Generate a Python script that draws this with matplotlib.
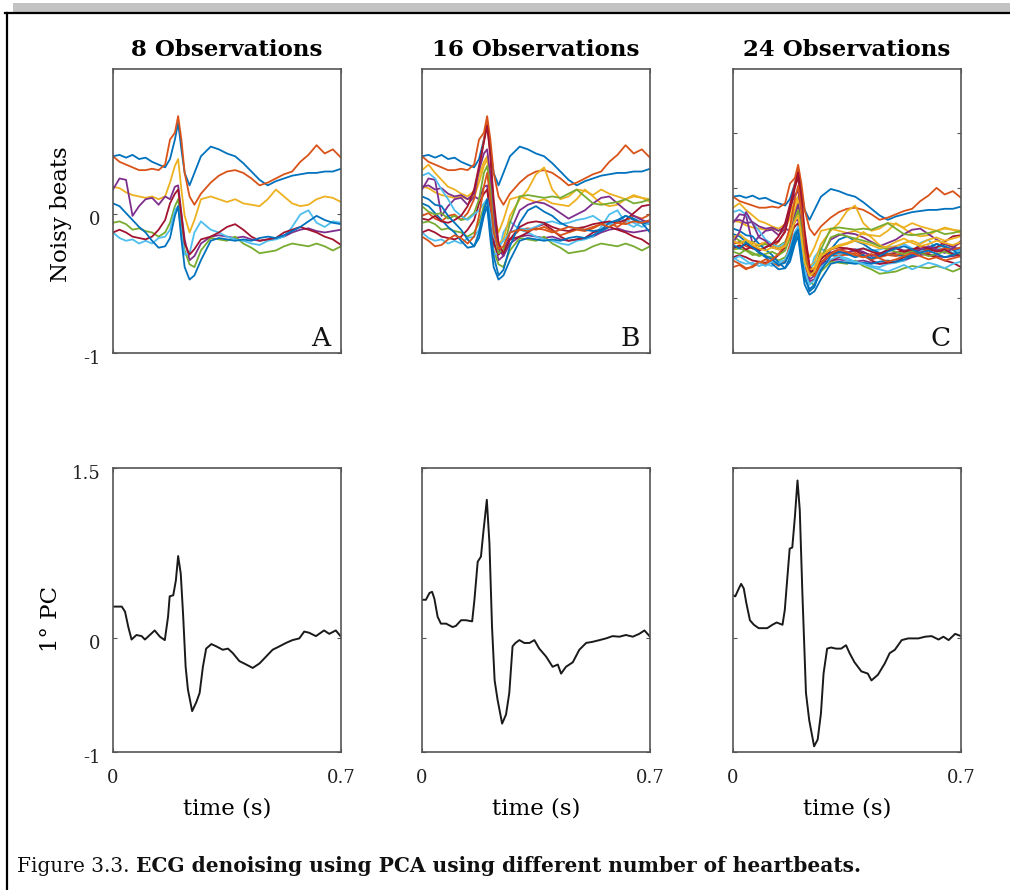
import matplotlib
matplotlib.use('Agg')
import matplotlib.pyplot as plt
from matplotlib.lines import Line2D
from matplotlib.patches import Rectangle
from matplotlib.transforms import ScaledTranslation

plt.rcParams['font.family'] = ['DejaVu Serif']

# ---- datos ----
titulos = ['8 Observations', '16 Observations', '24 Observations']
n_obs = [8, 16, 24]
letras = ['A', 'B', 'C']
colores = ['#0072BD', '#D95319', '#EDB120', '#7E2F8E', '#77AC30', '#4DBEEE', '#A2142F']

t_beats = [0.0, 0.02, 0.04, 0.06, 0.08, 0.10, 0.12, 0.14, 0.16, 0.175, 0.19, 0.20,
           0.21, 0.22, 0.235, 0.25, 0.27, 0.30, 0.325, 0.35, 0.375, 0.40, 0.425,
           0.45, 0.475, 0.50, 0.525, 0.55, 0.575, 0.60, 0.625, 0.65, 0.675, 0.70]

beat_01 = [0.42, 0.43, 0.41, 0.43, 0.40, 0.41, 0.38, 0.36, 0.34, 0.40, 0.54, 0.66, 0.47, 0.30, 0.21, 0.30, 0.42,
           0.49, 0.47, 0.44, 0.42, 0.37, 0.31, 0.25, 0.21, 0.24, 0.26, 0.28, 0.29, 0.30, 0.30, 0.31, 0.31, 0.33]
beat_02 = [0.42, 0.38, 0.36, 0.34, 0.32, 0.32, 0.33, 0.32, 0.36, 0.54, 0.59, 0.71, 0.54, 0.30, 0.13, 0.07, 0.15,
           0.23, 0.28, 0.31, 0.32, 0.30, 0.26, 0.21, 0.23, 0.26, 0.29, 0.31, 0.38, 0.43, 0.50, 0.44, 0.47, 0.41]
beat_03 = [0.20, 0.19, 0.16, 0.14, 0.13, 0.12, 0.13, 0.11, 0.13, 0.23, 0.35, 0.40, 0.18, -0.01, -0.13, -0.04, 0.11,
           0.13, 0.11, 0.09, 0.11, 0.08, 0.07, 0.06, 0.11, 0.18, 0.13, 0.08, 0.06, 0.07, 0.11, 0.13, 0.12, 0.09]
beat_04 = [0.18, 0.26, 0.25, -0.01, 0.06, 0.11, 0.12, 0.07, 0.13, 0.11, 0.20, 0.21, 0.01, -0.18, -0.33, -0.30, -0.21,
           -0.16, -0.15, -0.16, -0.17, -0.16, -0.18, -0.19, -0.18, -0.17, -0.16, -0.13, -0.11, -0.10, -0.12, -0.13, -0.12, -0.11]
beat_05 = [-0.06, -0.05, -0.07, -0.11, -0.10, -0.12, -0.13, -0.16, -0.13, -0.06, 0.06, 0.11, -0.09, -0.26, -0.36, -0.38, -0.26,
           -0.17, -0.18, -0.19, -0.16, -0.21, -0.24, -0.28, -0.27, -0.26, -0.23, -0.21, -0.22, -0.23, -0.21, -0.23, -0.26, -0.23]
beat_06 = [-0.13, -0.17, -0.19, -0.18, -0.21, -0.19, -0.21, -0.17, -0.16, -0.11, 0.03, 0.06, -0.13, -0.29, -0.28, -0.13, -0.05,
           -0.11, -0.13, -0.16, -0.18, -0.19, -0.21, -0.22, -0.19, -0.18, -0.16, -0.09, 0.00, 0.03, -0.06, -0.09, -0.05, -0.06]
beat_07 = [-0.13, -0.11, -0.13, -0.16, -0.17, -0.18, -0.16, -0.11, -0.04, 0.08, 0.15, 0.18, -0.01, -0.21, -0.29, -0.25, -0.18,
           -0.16, -0.13, -0.09, -0.07, -0.11, -0.16, -0.19, -0.18, -0.17, -0.13, -0.11, -0.09, -0.11, -0.13, -0.16, -0.18, -0.22]
beat_08 = [0.08, 0.06, 0.01, -0.04, -0.09, -0.13, -0.19, -0.24, -0.23, -0.17, -0.01, 0.06, -0.18, -0.38, -0.47, -0.44, -0.33,
           -0.19, -0.17, -0.18, -0.19, -0.18, -0.19, -0.17, -0.16, -0.17, -0.15, -0.12, -0.09, -0.05, -0.01, -0.04, -0.06, -0.07]
beat_09 = [-0.01, 0.01, -0.03, -0.05, -0.01, 0.00, -0.04, 0.01, 0.11, 0.30, 0.54, 0.67, 0.42, 0.06, -0.23, -0.28, -0.18,
           -0.11, -0.10, -0.11, -0.09, -0.12, -0.15, -0.13, -0.11, -0.12, -0.10, -0.07, -0.06, -0.09, -0.05, -0.01, -0.03, 0.00]
beat_10 = [0.32, 0.36, 0.30, 0.25, 0.20, 0.18, 0.15, 0.13, 0.17, 0.28, 0.38, 0.42, 0.20, -0.06, -0.21, -0.18, -0.01,
           0.11, 0.18, 0.29, 0.34, 0.18, 0.11, 0.13, 0.18, 0.17, 0.14, 0.18, 0.15, 0.13, 0.11, 0.14, 0.12, 0.11]
beat_11 = [0.20, 0.21, 0.18, 0.19, 0.15, 0.13, 0.14, 0.11, 0.15, 0.32, 0.44, 0.47, 0.28, -0.01, -0.25, -0.30, -0.13,
           0.03, 0.07, 0.09, 0.08, 0.05, 0.01, -0.03, 0.00, 0.03, 0.08, 0.12, 0.13, 0.08, 0.03, -0.01, -0.04, -0.06]
beat_12 = [0.06, 0.02, 0.00, 0.01, -0.03, -0.01, -0.04, -0.03, 0.01, 0.11, 0.30, 0.35, 0.18, -0.11, -0.28, -0.25, -0.06,
           0.13, 0.14, 0.13, 0.12, 0.13, 0.12, 0.15, 0.18, 0.13, 0.08, 0.07, 0.08, 0.09, 0.11, 0.08, 0.09, 0.11]
beat_13 = [0.28, 0.30, 0.26, 0.18, 0.11, 0.03, -0.01, -0.04, 0.00, 0.03, 0.08, 0.11, -0.01, -0.16, -0.23, -0.19, -0.13,
           -0.10, -0.11, -0.09, -0.06, -0.05, -0.07, -0.06, -0.04, -0.03, -0.01, -0.05, -0.07, -0.06, -0.04, -0.06, -0.09, -0.06]
beat_14 = [-0.03, -0.04, -0.01, -0.05, -0.06, -0.04, -0.01, 0.06, 0.18, 0.35, 0.52, 0.64, 0.42, 0.11, -0.21, -0.28, -0.18,
           -0.09, -0.06, -0.05, -0.06, -0.09, -0.11, -0.12, -0.10, -0.09, -0.07, -0.06, -0.05, -0.06, -0.04, 0.01, 0.06, 0.07]
beat_15 = [0.13, 0.11, 0.07, 0.06, -0.01, -0.06, -0.11, -0.18, -0.23, -0.13, 0.03, 0.11, -0.11, -0.30, -0.44, -0.40, -0.23,
           -0.06, 0.03, 0.06, 0.02, -0.01, -0.06, -0.09, -0.10, -0.11, -0.12, -0.11, -0.06, -0.04, -0.01, -0.03, -0.06, -0.13]
beat_16 = [-0.16, -0.19, -0.23, -0.22, -0.18, -0.15, -0.17, -0.21, -0.16, -0.01, 0.20, 0.30, 0.11, -0.13, -0.25, -0.23, -0.13,
           -0.11, -0.12, -0.10, -0.11, -0.13, -0.11, -0.09, -0.10, -0.11, -0.09, -0.07, -0.09, -0.06, -0.07, -0.05, -0.06, -0.04]
beat_17 = [0.05, 0.08, 0.03, 0.00, -0.02, 0.01, -0.03, -0.05, -0.02, 0.10, 0.30, 0.38, 0.20, -0.10, -0.25, -0.22, -0.10,
           -0.05, -0.02, 0.00, 0.03, 0.10, 0.05, -0.02, -0.05, -0.03, 0.00, 0.02, -0.01, 0.03, 0.05, 0.02, 0.04, 0.06]
beat_18 = [0.00, 0.10, 0.28, 0.18, 0.05, 0.02, -0.04, -0.06, -0.03, 0.05, 0.25, 0.35, 0.15, -0.15, -0.35, -0.33, -0.20,
           -0.10, -0.08, -0.09, -0.06, -0.08, -0.12, -0.10, -0.06, -0.04, -0.07, -0.10, -0.06, -0.03, -0.06, -0.09, -0.05, 0.02]
beat_19 = [-0.08, -0.10, -0.06, -0.09, -0.12, -0.10, -0.08, -0.11, -0.07, 0.05, 0.22, 0.30, 0.12, -0.15, -0.30, -0.28, -0.15,
           0.05, 0.08, 0.06, 0.04, 0.02, 0.00, -0.03, -0.06, -0.08, -0.10, -0.07, -0.09, -0.12, -0.10, -0.08, -0.11, -0.09]
beat_20 = [-0.15, -0.12, -0.16, -0.20, -0.18, -0.21, -0.17, -0.19, -0.15, -0.05, 0.10, 0.15, -0.05, -0.25, -0.38, -0.34, -0.22,
           -0.15, -0.12, -0.14, -0.17, -0.19, -0.22, -0.24, -0.26, -0.23, -0.20, -0.24, -0.21, -0.18, -0.20, -0.23, -0.19, -0.17]
beat_21 = [-0.05, -0.02, -0.06, -0.03, -0.07, -0.04, -0.01, 0.02, 0.10, 0.30, 0.50, 0.60, 0.35, 0.00, -0.25, -0.28, -0.15,
           -0.06, -0.04, -0.05, -0.07, -0.05, -0.08, -0.10, -0.07, -0.05, -0.08, -0.06, -0.03, -0.05, -0.08, -0.06, -0.10, -0.12]
beat_22 = [-0.02, -0.05, 0.00, -0.04, -0.08, -0.12, -0.15, -0.20, -0.18, -0.08, 0.08, 0.12, -0.10, -0.32, -0.42, -0.38, -0.25,
           -0.12, -0.08, -0.10, -0.13, -0.11, -0.14, -0.12, -0.08, -0.05, -0.03, -0.06, -0.09, -0.07, -0.10, -0.13, -0.11, -0.08]
beat_23 = [-0.22, -0.20, -0.24, -0.21, -0.17, -0.19, -0.15, -0.10, -0.02, 0.15, 0.40, 0.52, 0.30, -0.05, -0.28, -0.30, -0.18,
           -0.10, -0.06, -0.08, -0.11, -0.13, -0.10, -0.14, -0.17, -0.15, -0.12, -0.09, -0.12, -0.15, -0.13, -0.16, -0.14, -0.12]
beat_24 = [0.02, -0.01, 0.03, -0.02, -0.05, -0.07, -0.04, -0.06, -0.03, 0.08, 0.20, 0.25, 0.05, -0.18, -0.30, -0.26, -0.12,
           -0.06, -0.03, -0.01, 0.02, 0.00, -0.02, -0.05, -0.03, 0.01, 0.04, 0.00, -0.03, -0.01, 0.02, 0.00, -0.02, 0.01]

beats = [beat_01, beat_02, beat_03, beat_04, beat_05, beat_06, beat_07, beat_08,
         beat_09, beat_10, beat_11, beat_12, beat_13, beat_14, beat_15, beat_16,
         beat_17, beat_18, beat_19, beat_20, beat_21, beat_22, beat_23, beat_24]

# primera componente principal
pc_a_t = [0, .011, .027, .037, .047, .057, .072, .088, .098, .113, .128, .144, .159, .169, .174, .185, .193,
          .200, .208, .215, .223, .230, .243, .256, .266, .276, .286, .302, .317, .337, .353, .368, .388,
          .409, .429, .450, .470, .490, .511, .531, .551, .572, .587, .602, .623, .648, .664, .684, .70]
pc_a = [0.28, 0.28, 0.28, 0.235, 0.10, -0.01, 0.03, 0.02, -0.01, 0.03, 0.07, 0.015, -0.015, 0.19, 0.37, 0.38, 0.51,
        0.725, 0.57, 0.22, -0.25, -0.45, -0.64, -0.56, -0.48, -0.25, -0.09, -0.05, -0.07, -0.10, -0.09, -0.13, -0.20,
        -0.23, -0.26, -0.22, -0.16, -0.10, -0.07, -0.04, -0.015, 0.0, 0.06, 0.05, 0.02, 0.07, 0.04, 0.07, 0.015]
pc_b_t = [0, .012, .023, .031, .038, .048, .058, .074, .094, .104, .120, .135, .154, .161, .171, .181, .188,
          .199, .207, .215, .223, .232, .246, .258, .268, .278, .287, .299, .314, .330, .345, .360, .381,
          .401, .417, .427, .442, .463, .483, .504, .524, .545, .565, .585, .606, .626, .647, .667, .683, .70]
pc_b = [0.34, 0.34, 0.40, 0.41, 0.35, 0.19, 0.13, 0.13, 0.10, 0.11, 0.16, 0.16, 0.15, 0.34, 0.675, 0.72, 0.925,
        1.22, 0.84, 0.10, -0.37, -0.54, -0.75, -0.67, -0.48, -0.07, -0.04, -0.015, -0.04, -0.04, -0.015, -0.09, -0.16,
        -0.25, -0.23, -0.31, -0.25, -0.21, -0.10, -0.04, -0.03, -0.015, 0.0, 0.02, 0.015, 0.03, 0.015, 0.04, 0.07, 0.015]
pc_c_t = [0, .007, .018, .025, .033, .041, .052, .064, .079, .105, .121, .134, .152, .159, .167, .174, .182,
          .190, .198, .205, .213, .224, .234, .249, .260, .270, .278, .289, .301, .316, .332, .347, .358,
          .373, .394, .414, .425, .445, .466, .481, .497, .518, .538, .569, .590, .610, .631, .646, .662, .682, .70]
pc_c = [0.38, 0.37, 0.44, 0.48, 0.44, 0.31, 0.16, 0.12, 0.09, 0.09, 0.12, 0.14, 0.12, 0.25, 0.54, 0.79, 0.80,
        1.07, 1.39, 1.13, 0.40, -0.48, -0.72, -0.95, -0.89, -0.66, -0.31, -0.09, -0.08, -0.09, -0.09, -0.06, -0.13,
        -0.21, -0.29, -0.31, -0.37, -0.32, -0.22, -0.13, -0.10, -0.015, 0.0, 0.0, 0.015, 0.02, -0.01, 0.015, -0.015, 0.04, 0.02]

pcs_t = [pc_a_t, pc_b_t, pc_c_t]
pcs = [pc_a, pc_b, pc_c]
ylim_top = [(-1, 1.05), (-1, 1.05), (-1, 1.58)]

W, H = 1010, 890
fig = plt.figure(figsize=(W / 100, H / 100), dpi=100)

# marco del documento
fig.add_artist(Rectangle((13 / W, 1 - 12 / H), 1, 8.5 / H, transform=fig.transFigure,
                         facecolor='#c3c3c3', edgecolor='none'))
fig.add_artist(Line2D([5 / W, 1], [1 - 13 / H] * 2, transform=fig.transFigure, color='black', lw=1.6))
fig.add_artist(Line2D([6.5 / W] * 2, [0, 1 - 13 / H], transform=fig.transFigure, color='black', lw=1.6))

lefts = [113, 422, 733]
spine_col = '#555555'
baja = ScaledTranslation(0, -4 / 100, fig.dpi_scale_trans)  # digitos "old style" van mas abajo


def estilo(ax):
    for s in ax.spines.values():
        s.set_color(spine_col)
        s.set_linewidth(1.2)
    ax.tick_params(direction='in', length=3, color=spine_col, right=True, top=True,
                   labelsize=13, labelcolor='#222222', pad=9)


for i in range(3):
    ax = fig.add_axes([lefts[i] / W, (H - 353) / H, 228 / W, 284 / H])
    for k in range(n_obs[i]):
        ax.plot(t_beats, beats[k], color=colores[k % 7], lw=1.3)
    ax.set_xlim(0, 0.7)
    ax.set_ylim(*ylim_top[i])
    ax.set_xticks([0, 0.7])
    ax.set_xticklabels([])
    if i < 2:
        ax.set_yticks([-1, 0])
    else:
        ax.set_yticks([-0.5, 0, 0.5, 1.0])
    if i == 0:
        ax.set_yticklabels(['-1', '0'])
        ax.set_ylabel('Noisy beats', fontsize=16.5)
        ax.yaxis.set_label_coords(-0.18, 0.49)
    else:
        ax.set_yticklabels([])
    ax.set_title(titulos[i], fontsize=16.5, fontweight='bold', pad=9)
    ax.text(0.955, 0.025, letras[i], transform=ax.transAxes, ha='right', va='baseline',
            fontsize=19, color='#111111')
    estilo(ax)
    for lab in ax.get_yticklabels():
        lab.set_transform(lab.get_transform() + baja)

    ax2 = fig.add_axes([lefts[i] / W, (H - 752) / H, 228 / W, 284 / H])
    ax2.plot(pcs_t[i], pcs[i], color='#1a1a1a', lw=1.4)
    ax2.set_xlim(0, 0.7)
    ax2.set_ylim(-1, 1.5)
    ax2.set_xticks([0, 0.7])
    ax2.set_xticklabels(['0', '0.7'])
    ax2.set_yticks([-1, 0, 1.5])
    if i == 0:
        ax2.set_yticklabels(['-1', '0', '1.5'])
        ax2.set_ylabel('1° PC', fontsize=16.5)
        ax2.yaxis.set_label_coords(-0.225, 0.47)
    else:
        ax2.set_yticklabels([])
    ax2.set_xlabel('time (s)', fontsize=16.5)
    ax2.xaxis.set_label_coords(0.5, -0.16)
    estilo(ax2)
    ax2.tick_params(axis='x', pad=12)
    for lab in ax2.get_yticklabels():
        lab.set_transform(lab.get_transform() + baja)

# pie de figura
t1 = fig.text(17 / W, (H - 866) / H, 'Figure 3.3.', fontsize=14.5, va='center', color='#111111')
fig.canvas.draw()
bb = t1.get_window_extent(fig.canvas.get_renderer())
fig.text((bb.x1 + 6) / W, (H - 866) / H, 'ECG denoising using PCA using different number of heartbeats.',
         fontsize=14.5, fontweight='bold', va='center', color='#111111')

fig.savefig('out.png', dpi=100)
